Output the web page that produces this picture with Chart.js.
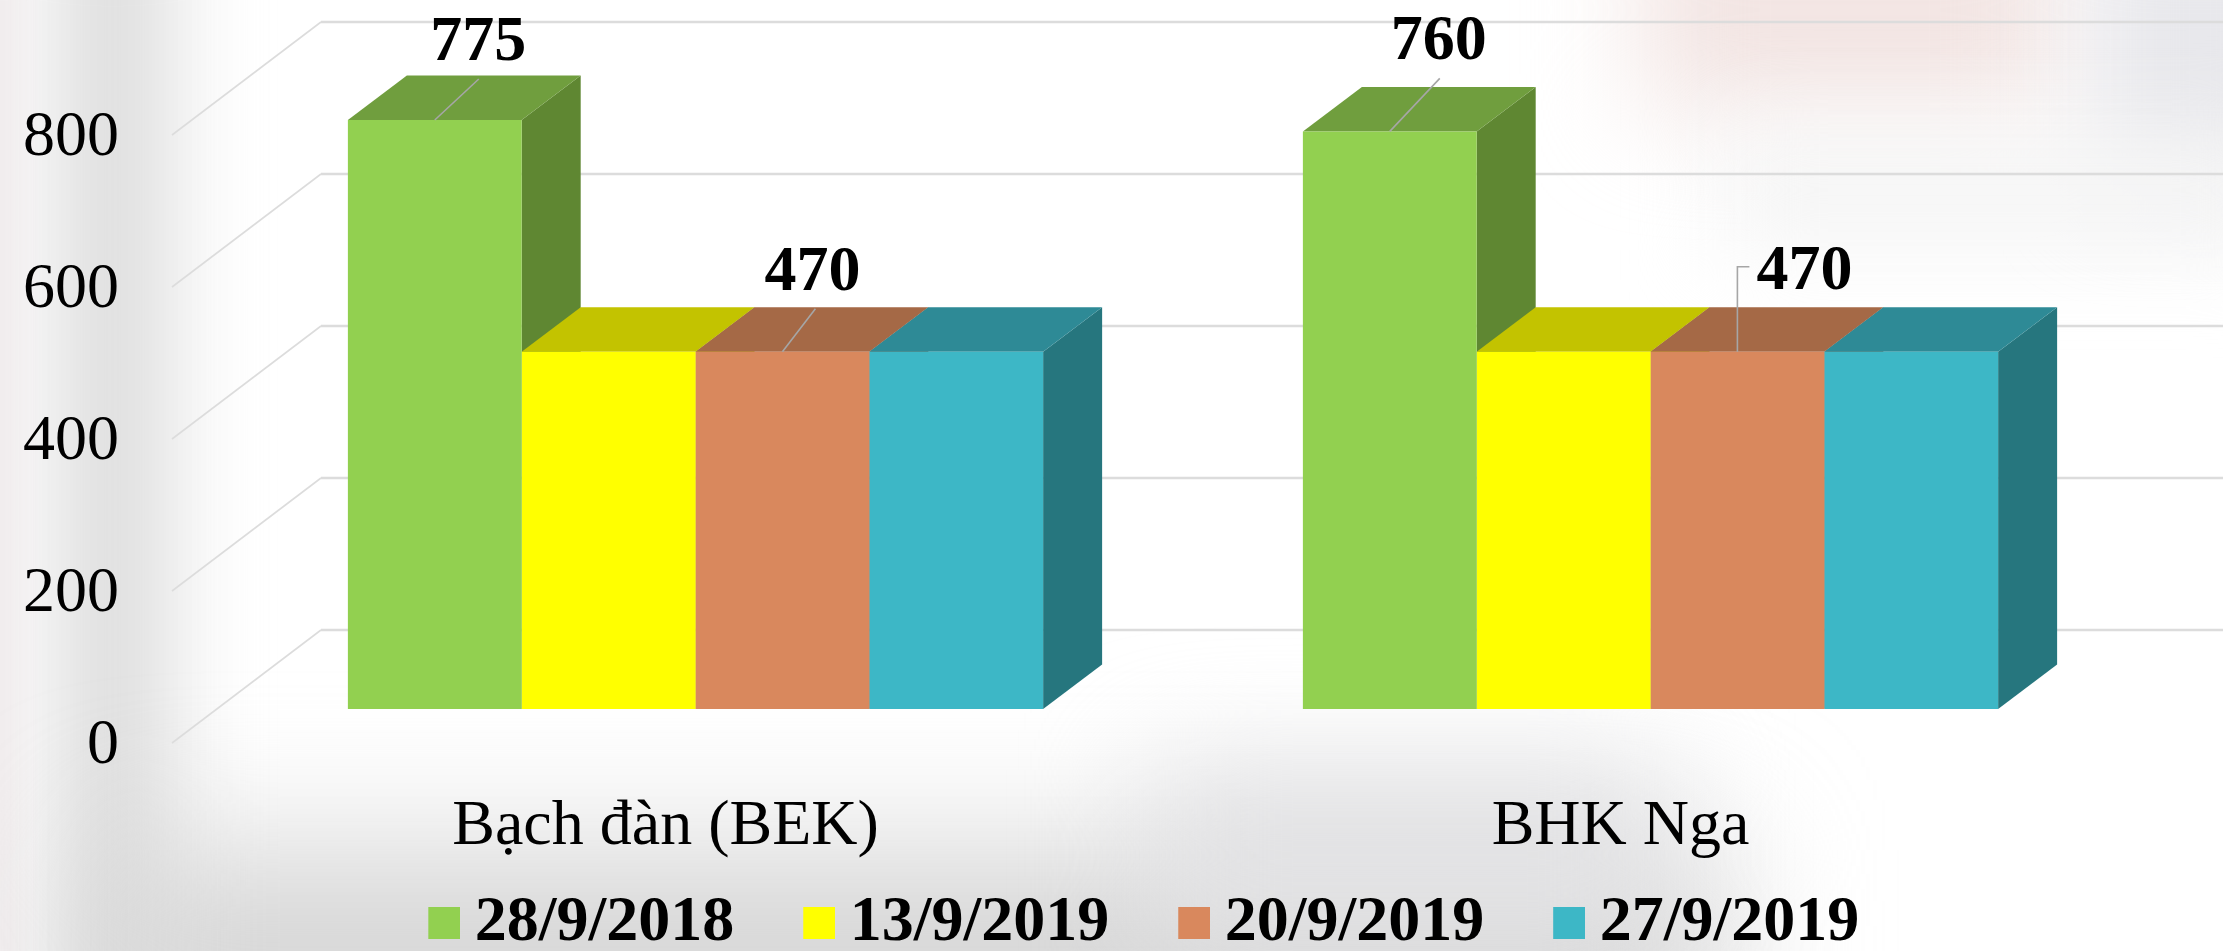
<!DOCTYPE html>
<html>
<head>
<meta charset="utf-8">
<title>Chart</title>
<script src="https://cdn.jsdelivr.net/npm/chart.js@4/dist/chart.umd.min.js"></script>
<style>
html,body{margin:0;padding:0;width:2223px;height:951px;overflow:hidden;background:#fff}
#bg{position:absolute;left:0;top:0;width:2223px;height:951px;overflow:hidden}
#bg div{position:absolute}
canvas{position:absolute;left:0;top:0}
</style>
</head>
<body>
<div id="bg">
  <div style="left:55px;top:-100px;width:115px;height:1160px;background:#dcdcdc;filter:blur(45px)"></div>
  <div style="left:-30px;top:-30px;width:55px;height:1010px;background:#f0eced;filter:blur(14px)"></div>
  <div style="left:100px;top:850px;width:1620px;height:220px;background:#d4d4d4;filter:blur(75px)"></div>
  <div style="left:1150px;top:770px;width:520px;height:170px;background:#e2e2e4;filter:blur(60px)"></div>
  <div style="left:1640px;top:-90px;width:420px;height:200px;background:#f2e4e2;filter:blur(55px)"></div>
  <div style="left:2090px;top:-80px;width:220px;height:280px;background:#e8e8ec;filter:blur(45px)"></div>
  <div style="left:1720px;top:130px;width:560px;height:120px;background:#f5f5f5;filter:blur(45px)"></div>
</div>
<canvas id="c" width="2223" height="951"></canvas>
<script>
const categories = ['Bạch đàn (BEK)', 'BHK Nga'];
const seriesNames = ['28/9/2018', '13/9/2019', '20/9/2019', '27/9/2019'];
const series1 = [775, 760];
const series2 = [470, 470];
const series3 = [470, 470];
const series4 = [470, 470];
const yTicks = [0, 200, 400, 600, 800];

const frontColors = ['#92D050', '#FFFF00', '#D9885D', '#3DB7C6'];
const topColors   = ['#709E3E', '#C3C300', '#A56946', '#2E8A96'];
const sideColors  = ['#5F8732', '#C3C300', '#A56946', '#26767E'];

const SERIF = '"Liberation Serif", "Times New Roman", serif';
const DEPTH_X = 59, DEPTH_Y = 44.5;          // bar depth
const WALL_DX = 149, WALL_DY = 113;          // side-wall depth
const FLOOR_DROP = 34;                       // wall front plane sits below the bar plane
const WALL_LEFT = 172;

const callouts = [
  {ds: 0, i: 0, path: [[0,0],[44,-41]], label: [43.5,-77]},
  {ds: 2, i: 0, path: [[0,0],[33,-43]], label: [30,-78]},
  {ds: 0, i: 1, path: [[0,0],[50,-53]], label: [49,-89]},
  {ds: 2, i: 1, path: [[0,0],[0,-85],[12,-85]], label: [67,-79]}
];

function swatch(color) {
  const s = document.createElement('canvas');
  s.width = 38; s.height = 32;
  const g = s.getContext('2d');
  g.fillStyle = color; g.fillRect(6, 0, 32, 32);
  return s;
}
const swatches = frontColors.map(swatch);

function poly(ctx, pts, fill) {
  ctx.beginPath();
  pts.forEach((p, k) => k ? ctx.lineTo(p[0], p[1]) : ctx.moveTo(p[0], p[1]));
  ctx.closePath();
  ctx.fillStyle = fill;
  ctx.fill();
}

const walls = {
  id: 'walls',
  beforeDatasetsDraw(chart) {
    const {ctx, scales: {y}, width} = chart;
    ctx.save();
    ctx.strokeStyle = '#dcdcdc';
    yTicks.forEach(v => {
      const fy = y.getPixelForValue(v) + FLOOR_DROP;
      const bx = WALL_LEFT + WALL_DX, by = fy - WALL_DY;
      ctx.lineWidth = 1.6;
      ctx.beginPath(); ctx.moveTo(WALL_LEFT, fy); ctx.lineTo(bx, by); ctx.stroke();
      ctx.lineWidth = 2.4;
      ctx.beginPath(); ctx.moveTo(bx, by); ctx.lineTo(width, by); ctx.stroke();
    });
    // extruded faces of the bars
    chart.data.labels.forEach((_, i) => {
      chart.data.datasets.forEach((ds, d) => {
        const bar = chart.getDatasetMeta(d).data[i];
        const l = bar.x - bar.width / 2, r = bar.x + bar.width / 2, t = bar.y, b = bar.base;
        poly(ctx, [[r,t],[r+DEPTH_X,t-DEPTH_Y],[r+DEPTH_X,b-DEPTH_Y],[r,b]], sideColors[d]);
        poly(ctx, [[l,t],[l+DEPTH_X,t-DEPTH_Y],[r+DEPTH_X,t-DEPTH_Y],[r,t]], topColors[d]);
      });
    });
    ctx.restore();
  },
  afterDatasetsDraw(chart) {
    const {ctx} = chart;
    ctx.save();
    callouts.forEach(c => {
      const bar = chart.getDatasetMeta(c.ds).data[c.i];
      ctx.strokeStyle = '#a6a6a6';
      ctx.lineWidth = 1.6;
      ctx.beginPath();
      c.path.forEach((p, k) => k ? ctx.lineTo(bar.x + p[0], bar.y + p[1]) : ctx.moveTo(bar.x + p[0], bar.y + p[1]));
      ctx.stroke();
      ctx.fillStyle = '#000';
      ctx.font = 'bold 64px ' + SERIF;
      ctx.textAlign = 'center';
      ctx.textBaseline = 'middle';
      ctx.fillText(String(chart.data.datasets[c.ds].data[c.i]), bar.x + c.label[0], bar.y + c.label[1]);
    });
    ctx.restore();
  }
};

const legendPlace = {
  id: 'legendPlace',
  beforeLayout(chart) {
    const lg = chart.legend;
    if (lg && !lg._patched) {
      const orig = lg.fit;
      lg.fit = function () { orig.call(this); this.height = 1; };
      lg._patched = true;
    }
  },
  afterLayout(chart) {
    const lg = chart.legend;
    lg.top = 811;
    lg.bottom = 951;
    lg.left = 38;
    lg.right = 2223 + 38;
  }
};

new Chart(document.getElementById('c'), {
  type: 'bar',
  data: {
    labels: categories,
    datasets: [series1, series2, series3, series4].map((data, d) => ({
      label: seriesNames[d],
      data,
      backgroundColor: frontColors[d],
      borderWidth: 0,
      categoryPercentage: 0.728,
      barPercentage: 1
    }))
  },
  plugins: [walls, legendPlace],
  options: {
    responsive: false,
    animation: false,
    layout: {padding: {top: 101, right: 95, left: 0, bottom: 0}},
    plugins: {
      tooltip: {enabled: false},
      title: {display: false},
      legend: {
        position: 'bottom',
        align: 'center',
        labels: {
          color: '#000',
          font: {family: SERIF, size: 64, weight: 'bold'},
          usePointStyle: true,
          pointStyleWidth: 3,
          boxHeight: 32,
          padding: 80.4,
          generateLabels: chart => chart.data.datasets.map((ds, d) => ({
            text: ds.label,
            fillStyle: frontColors[d],
            strokeStyle: frontColors[d],
            lineWidth: 0,
            pointStyle: swatches[d],
            fontColor: '#000',
            datasetIndex: d,
            hidden: false
          }))
        }
      }
    },
    scales: {
      x: {
        grid: {display: false, drawTicks: false},
        border: {display: false},
        ticks: {
          color: '#000',
          font: {family: SERIF, size: 64},
          padding: 80,
          labelOffset: -30,
          maxRotation: 0,
          minRotation: 0,
          autoSkip: false
        },
        afterFit(s) { s.height = 241; s.paddingLeft = 0; s.paddingRight = 0; }
      },
      y: {
        min: 0,
        max: 800,
        grid: {display: false, drawTicks: false},
        border: {display: false},
        afterBuildTicks(s) { s.ticks = yTicks.map(value => ({value})); },
        ticks: {
          color: '#000',
          font: {family: SERIF, size: 64},
          padding: 99,
          labelOffset: FLOOR_DROP + 3
        },
        afterFit(s) { s.width = 218; s.paddingTop = 0; s.paddingBottom = 0; }
      }
    }
  }
});
</script>
</body>
</html>
